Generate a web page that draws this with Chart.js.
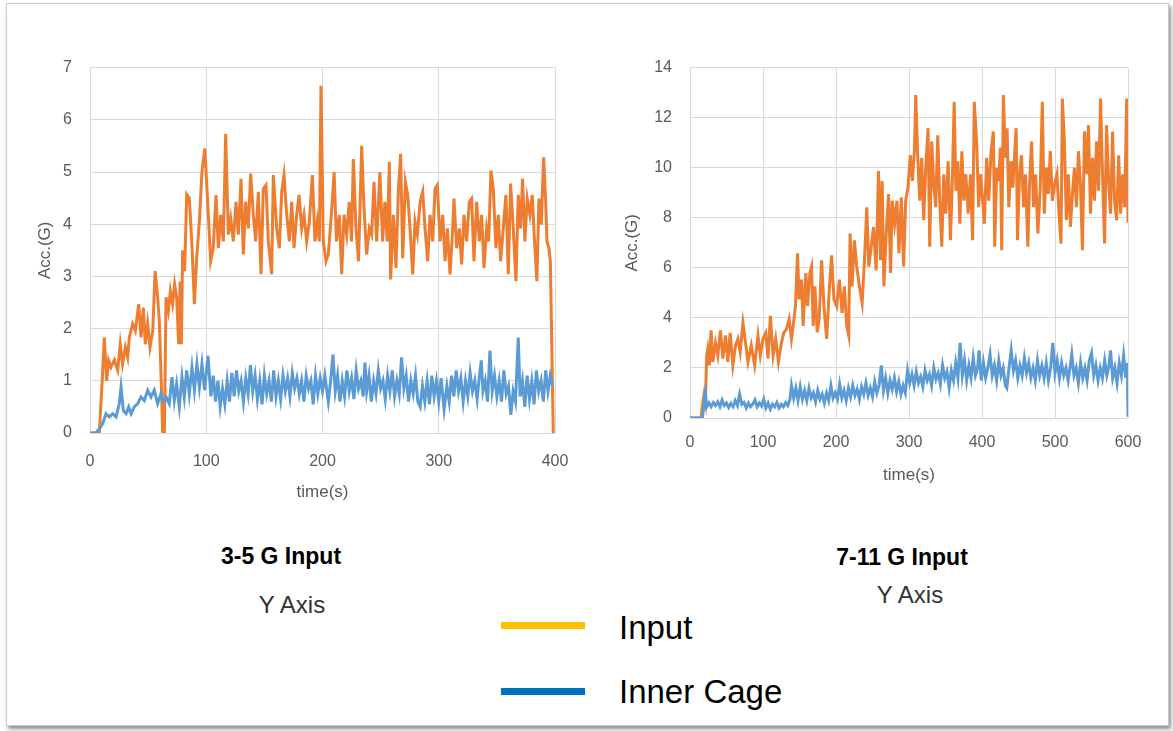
<!DOCTYPE html>
<html>
<head>
<meta charset="utf-8">
<script src="https://cdn.jsdelivr.net/npm/chart.js@4/dist/chart.umd.min.js"></script>
<style>
  html, body { margin: 0; padding: 0; background: #ffffff; }
  body { width: 1173px; height: 731px; position: relative; overflow: hidden; font-family: "Liberation Sans", Arial, sans-serif; }
  #frame { position: absolute; left: 6px; top: 3px; width: 1161px; height: 721px; border: 1px solid #c9c9c9; box-shadow: 2px 3px 4px rgba(0,0,0,0.45); background: #fff; }
  .box { position: absolute; }
  .cap { position: absolute; text-align: center; white-space: nowrap; transform: translate(-50%, -50%); }
  .bold { font-weight: bold; font-size: 23px; color: #000; }
  .sub { font-size: 24px; color: #333; }
  .swatch { position: absolute; width: 84px; height: 7px; }
  .legtxt { position: absolute; font-size: 33px; color: #000; transform: translateY(-50%); white-space: nowrap; }
</style>
</head>
<body>
<div id="frame"></div>
<div class="box" style="left:20px;top:40px;width:568px;height:470px"><canvas id="chartLow"></canvas></div>
<div class="box" style="left:600px;top:40px;width:560px;height:460px"><canvas id="chartHigh"></canvas></div>

<div class="cap bold" style="left:281px;top:556px">3-5 G Input</div>
<div class="cap sub" style="left:292px;top:605px">Y Axis</div>
<div class="cap bold" style="left:902px;top:557px">7-11 G Input</div>
<div class="cap sub" style="left:910px;top:595px">Y Axis</div>

<div class="swatch" style="left:501px;top:622px;background:#FFC000"></div>
<div class="legtxt" style="left:619px;top:628px">Input</div>
<div class="swatch" style="left:501px;top:688px;background:#0070C0"></div>
<div class="legtxt" style="left:619px;top:692px">Inner Cage</div>

<script>
// ---- 3-5 G input run (0-400 s) ----
const lowInputTime = [0,8,9.4,10.5,12.3,14.3,16,18,21,23.8,26,28,30.4,32.4,33.8,36.7,39,41.9,43.9,45.9,47.6,49.6,51.6,54,56,58.2,59.6,61,62.5,64,65.4,67.4,69.1,71,72.8,74.5,76.3,77.5,78.6,79.7,81.4,83.2,85.4,87.7,89.8,91.8,94.1,96.3,98.8,101.8,103.8,106,108.4,110.4,112.4,114.7,116.7,119,121,123.3,125.6,127.6,129.9,131.9,133.9,136.2,138.2,140.5,142.5,144.8,147.1,149.1,151.4,153.4,156.3,157.7,160.6,162.9,164.9,166.9,169.2,171.5,173.5,175.5,177.8,179.8,182.1,184.1,186.4,188.7,191.3,193.5,195.5,197.3,198.7,200.7,203,205,208,210,212,214.5,216.5,218.5,220.8,223,225,226.5,228.8,231,233.7,235.7,238,240.3,242.3,244.3,246.6,249.4,251.7,253.7,255.7,257.5,258.6,261,263.2,265.2,267.2,269,271.3,273.3,275.3,277.6,279.6,281.6,284,286.2,288.2,290.5,292.5,294.8,296.8,298.8,301.1,303.4,305.4,307.4,309.7,312,313.1,315.4,317.7,319.7,321.7,324,326.3,328.3,330.3,332.6,334.9,336.9,338.9,341.2,342.9,344.9,346.9,349.2,351.2,353.2,355.5,357.8,359.8,361.8,364.1,366.4,368.4,370.4,372.1,374.1,376.1,378.4,380.4,382.4,384.4,386.2,388.2,390.2,392,393.1,394.8,396,398.5];
const lowInputAcc = [0,0,0.56,1.0,1.83,1.0,1.39,1.26,1.4,1.2,1.7,1.32,1.64,1.45,1.83,2.09,1.96,2.47,1.83,2.4,1.7,2.1,1.64,1.96,3.1,2.6,2.15,1.2,0,0,2.6,2.34,2.72,2.47,2.85,2.6,1.7,2.9,1.7,3.5,3.1,4.57,4.5,3.6,2.47,3.36,4.06,5.0,5.45,4.18,3.29,3.54,4.56,3.54,4.18,3.67,5.73,3.8,4.11,3.67,4.43,3.8,4.87,3.42,4.43,3.92,4.97,4.18,3.67,4.62,3.04,4.68,4.75,3.67,3.04,4.94,3.92,3.54,4.62,4.94,4.18,3.67,4.43,3.54,4.18,4.56,3.92,4.18,3.67,4.05,4.94,3.67,4.05,3.67,6.65,3.67,3.29,3.42,4.3,5.0,3.67,4.18,3.04,4.18,3.8,4.43,3.67,5.25,3.92,3.29,5.5,4.3,3.42,3.92,3.8,4.81,3.67,5.0,3.67,4.43,3.67,5.19,2.94,4.18,3.16,4.62,5.35,3.35,4.81,4.56,3.92,3.04,4.05,3.8,4.43,4.62,3.92,3.29,4.18,3.67,4.68,4.75,3.67,4.18,3.29,3.92,3.04,3.92,4.49,3.54,3.92,3.23,4.18,3.67,4.43,4.49,3.29,4.43,3.67,4.18,3.16,3.92,3.67,5.03,4.68,3.54,4.18,3.29,3.92,4.56,3.04,4.78,3.92,2.91,4.56,3.92,4.87,3.67,4.49,4.18,4.56,3.67,2.91,4.49,3.99,5.28,4.43,3.67,3.54,3.29,0];

const lowCageTime = [0,5,8,10.9,13.8,16.6,19.5,22.4,25.2,26.7,28.7,31,33.3,35.3,38.1,41,43.9,46.7,49.6,52.5,55.3,58.2,61,63,65.4,68.2,70.5,72.5,74.5,76.8,79.1,81.1,83.2,85.4,87.7,89.8,92,94.1,96.3,98.6,101.5,104,106,108,110,112,114,116,118,120,122,124,126,128,130,132,134,136,138,140,142,144,146,148,150,152,154,156,158,160,162,164,166,168,170,172,174,176,178,180,182,184,186,188,190,192,194,196,198,200,202,205,207,209,211,213,215,217,219,221,223,225,227,229,231,233,235,236.5,238,240,242,244,246,248,250,252,254,256,258,260,262,264,266,268,270,272,274,276,278,280,282,284,286,288,290,292,294,296,298,300,302,304.6,307,309,311,313,315,317,319,321,323,325,327,329,331,333,335,336.6,338,340,342,344,346,348,350,352,354,356,358,360,362,364,366,368.4,370,372,374,376,378,380,382,384,386,388,390,392,394,396,398];
const lowCageAcc = [0,0,0.08,0.18,0.37,0.31,0.37,0.31,0.56,0.88,0.43,0.37,0.5,0.37,0.5,0.56,0.69,0.62,0.82,0.69,0.82,0.56,0.75,0.6,0.69,0.56,1.07,0.62,0.94,0.5,1.07,0.69,1.2,0.75,1.26,0.82,1.32,0.88,1.32,0.82,1.48,0.7,1.1,0.6,1.0,0.5,0.85,0.55,1.0,0.6,1.15,0.7,1.2,0.8,1.0,0.6,1.05,0.75,1.3,0.8,1.1,0.65,1.0,0.55,1.1,0.75,1.0,0.6,1.2,0.7,1.0,0.65,1.1,0.8,1.05,0.7,1.15,0.85,1.05,0.75,1.0,0.6,1.1,0.85,1.0,0.55,1.1,0.75,1.05,0.8,1.1,0.6,1.0,1.5,0.8,1.1,0.6,1.0,0.7,1.2,0.8,1.05,0.65,1.2,0.85,1.0,0.7,1.35,0.8,1.1,0.6,1.0,0.75,1.2,0.85,1.0,0.65,1.1,0.8,1.2,0.7,1.0,0.75,1.45,0.85,1.1,0.6,1.0,0.75,1.1,0.6,0.5,0.9,0.6,1.0,0.55,1.1,0.7,1.0,0.6,1.05,0.45,0.9,0.6,1.1,0.7,1.2,0.8,1.05,0.6,1.0,0.7,1.15,0.8,1.0,0.65,1.1,1.39,0.8,1.0,0.6,1.58,0.8,1.1,0.7,1.0,0.6,1.2,0.75,0.9,0.35,0.8,0.6,1.83,0.7,1.0,0.5,1.1,0.65,1.0,0.55,1.2,0.8,1.0,0.6,1.2,0.8,1.1,0.9];

// ---- 7-11 G input run (0-600 s) ----
const highInputTime = [0,15,17,19,21,22.9,24.3,26.6,28.9,31.2,34.9,38.1,41.7,45,48.6,51.8,55,58.7,62.4,65.6,68.8,72.5,76.1,79.4,83.9,88.5,93.1,96.3,100,103.7,106.9,110.1,113.8,117.4,121.1,125.2,128.4,132.1,135.8,139,141.3,144.5,147.3,149.5,152.8,155,158.7,161,164.2,166.5,168.8,171.1,174.3,177,180.3,183.5,187.2,190.8,194,197.2,200.9,204.6,208.3,211.5,214.7,217.4,219.3,222,225.2,228.4,232.1,235.8,239,242.2,244.9,248.2,251.4,255,258.2,261,263.2,265.6,268.8,272,274.8,277,280.3,283.5,286.2,289.4,292.6,295.4,298.6,301.8,304.6,307.4,309.2,311.9,314.7,317.4,320.2,322.9,326.1,328.4,331.1,333.9,336.6,339.4,342.1,344.9,347.6,350.4,353.6,356.8,359.6,361.9,364.2,366.9,369.7,372.4,375.2,377.9,381.1,384.3,387.1,389.4,392.6,395.4,398.1,400.9,403.2,406.4,409.2,412.4,415.6,417.4,420.2,422.9,425.2,427,429.3,432.1,434.4,436.7,439.9,442.2,444.9,446.8,448.6,451.4,454.1,456.9,459.6,462.8,465.1,467.9,470.6,473.4,476.6,479.8,482.6,485.3,488.1,490.8,493.6,496.3,499.5,502.7,505.5,508.2,510.1,512.8,515.6,518.3,521.1,523.9,526.6,529.4,532.1,534.9,537.6,540.4,543.1,545.9,548.6,551.4,554.1,556.9,559.6,562.4,565.1,567.9,570.6,573.4,576.1,578.9,581.6,584.4,587.2,589.9,592.7,595.4,598.2,600];
const highInputAcc = [0,0,0.5,0.9,0.6,2.5,2.76,2.1,3.5,2.24,3.0,2.5,3.5,2.37,3.3,2.24,3.4,2.1,2.9,3.16,2.63,3.8,3.0,2.24,2.9,2.1,3.3,2.5,3.16,3.4,2.37,4.08,2.5,3.16,2.24,3.0,3.4,3.55,3.95,3.16,3.68,4.47,6.58,4.74,5.53,3.68,5.79,4.47,5.79,6.05,3.68,5.26,3.42,3.95,6.3,4.47,3.16,5.13,6.5,4.74,4.47,5.53,4.2,5.26,3.68,3.3,7.37,5.26,7.1,6.05,5.26,4.6,6.3,8.42,6.05,6.84,7.63,5.9,9.87,6.3,9.47,5.26,7.37,8.95,5.79,8.68,7.76,8.68,6.58,8.82,6.05,8.68,9.2,10.5,9.47,10.66,12.9,10.5,8.68,10.4,7.9,10.0,11.58,6.84,11.05,9.34,8.42,11.3,8.68,6.84,9.74,8.16,10.26,7.1,9.74,12.63,9.08,10.26,7.76,10.66,8.68,9.74,8.16,9.74,7.1,12.63,11.05,8.42,9.74,8.68,7.76,10.4,8.68,10.66,11.45,6.84,10.0,9.47,10.8,6.7,12.9,10.4,11.58,8.42,10.26,9.2,10.66,11.58,7.1,9.74,10.5,8.42,9.74,6.84,9.34,11.05,8.42,9.74,7.37,9.2,12.63,8.16,10.0,8.95,10.66,8.68,9.34,9.74,8.16,6.97,12.76,11.05,7.9,9.74,7.63,8.95,10.0,8.42,10.66,9.34,6.7,11.45,9.74,11.7,8.16,10.4,8.68,11.05,9.08,12.76,9.74,6.97,11.7,9.47,8.16,11.45,8.68,7.9,10.5,8.16,9.74,8.42,12.76,7.8];

const highCageTime = [0,17,19,21,23,26,29,32,35,38,41,44,47,50,53,56,59,62,65,68,71,74,77,80,83,86,89,92,95,98,101,104,107,110,113,116,119,122,125,128,131,134,137,139,142,145,148,151,154,157,160,163,166,169,172,175,178,181,184,187,190,193,196,199,202,205,208,211,214,217,220,223,226,229,232,235,238,241,244,247,250,253,256,259,262,265,268,271,274,277,280,283,286,289,292,295,298,301,304,307,310,313,316,319,322,325,328,331,334,337,340,343,346,349,352,355,358,361,364,367,370,373,376,379,382,385,388,391,394,396,399,402,405,408,411,414,417,420,423,426,429,432,434,437,440,443,446,449,452,455,458,461,464,467,470,473,476,479,482,485,488,491,494,497,500,503,506,509,512,515,518,521,523,526,529,532,535,538,541,544,547,550,553,556,559,562,565,568,571,574,576,579,582,585,588,591,594,597,599,600];
const highCageAcc = [0,0,0.5,1.0,0.45,0.6,0.45,0.62,0.5,0.65,0.45,0.72,0.5,0.6,0.42,0.58,0.45,0.7,0.5,0.95,0.55,0.62,0.4,0.6,0.45,0.55,0.72,0.45,0.6,0.48,0.75,0.4,0.6,0.35,0.55,0.45,0.62,0.4,0.55,0.45,0.62,0.5,0.75,1.3,0.8,1.2,0.7,1.25,0.75,1.1,0.7,1.2,0.8,1.0,0.65,1.1,0.75,0.95,0.6,1.0,0.7,1.3,0.8,1.0,0.75,1.35,0.8,1.1,0.7,1.2,0.85,1.3,0.9,1.15,0.75,1.25,0.95,1.4,0.9,1.2,0.85,1.45,1.0,1.3,2.1,1.1,1.6,1.0,1.5,1.15,1.6,1.05,1.45,0.95,1.3,1.0,1.9,1.4,1.75,1.3,1.85,1.4,1.65,1.25,1.9,1.5,1.75,1.3,2.0,1.55,1.8,1.35,2.1,1.6,1.85,1.2,1.9,1.5,2.2,1.6,3.0,1.7,2.3,1.5,2.1,1.6,2.4,1.7,2.0,2.7,1.5,2.2,1.6,2.0,2.55,1.7,2.1,1.5,2.3,1.7,2.0,1.3,1.2,2.0,2.7,1.9,2.3,1.6,2.1,1.7,2.4,1.8,2.2,1.6,2.0,1.5,2.3,1.7,2.1,1.6,2.2,1.5,2.0,3.0,1.8,2.3,1.6,2.2,1.7,2.0,1.5,2.1,2.55,1.7,2.0,1.4,2.2,1.6,2.0,1.5,2.3,2.6,1.7,2.1,1.5,2.0,1.6,2.3,1.7,2.1,2.7,1.6,2.0,1.4,2.2,1.7,2.5,1.6,2.2,0.05];

// axis ranges and tick steps
const lowTimeTicks = { min: 0, max: 400, step: 100 };
const lowAccTicks = { min: 0, max: 7, step: 1 };
const highTimeTicks = { min: 0, max: 600, step: 100 };
const highAccTicks = { min: 0, max: 14, step: 2 };

const seriesLabels = ['Input', 'Inner Cage'];
const inputColor = '#ED7D31';
const cageColor = '#5B9BD5';
const gridColor = '#d9d9d9';
const textColor = '#595959';
const fontFamily = '"Liberation Sans", Arial, sans-serif';

function pairs(ts, vs) {
  return ts.map((t, i) => ({ x: t, y: vs[i] }));
}

function makeChart(id, inputT, inputV, cageT, cageV, xr, yr, geom) {
  const ctx = document.getElementById(id);
  return new Chart(ctx, {
    type: 'line',
    data: {
      datasets: [
        { label: seriesLabels[1], data: pairs(cageT, cageV), borderColor: cageColor, borderWidth: 3, pointRadius: 0, tension: 0, fill: false },
        { label: seriesLabels[0], data: pairs(inputT, inputV), borderColor: inputColor, borderWidth: 3, pointRadius: 0, tension: 0, fill: false }
      ]
    },
    options: {
      responsive: true,
      maintainAspectRatio: false,
      animation: false,
      events: [],
      layout: { padding: geom.padding },
      plugins: { legend: { display: false }, tooltip: { enabled: false } },
      scales: {
        x: {
          type: 'linear', min: xr.min, max: xr.max,
          ticks: { stepSize: xr.step, color: textColor, font: { family: fontFamily, size: 16 }, padding: geom.xTickPad, maxRotation: 0 },
          grid: { color: gridColor, lineWidth: 1, drawTicks: false },
          border: { display: false },
          title: { display: true, text: 'time(s)', color: textColor, font: { family: fontFamily, size: 17 }, padding: { top: 0, bottom: geom.xTitlePad } },
          afterFit: s => { s.height = geom.xHeight; }
        },
        y: {
          type: 'linear', min: yr.min, max: yr.max,
          ticks: { stepSize: yr.step, color: textColor, font: { family: fontFamily, size: 16 }, padding: geom.yTickPad },
          grid: { color: gridColor, lineWidth: 1, drawTicks: false },
          border: { display: false },
          title: { display: true, text: 'Acc.(G)', color: textColor, font: { family: fontFamily, size: 17 }, padding: { top: geom.yTitlePad, bottom: 0 } },
          afterFit: s => { s.width = geom.yWidth; }
        }
      }
    }
  });
}

makeChart('chartLow', lowInputTime, lowInputAcc, lowCageTime, lowCageAcc, lowTimeTicks, lowAccTicks,
  { padding: { left: 0, right: 33, top: 25, bottom: 7 }, xHeight: 70, yWidth: 70, xTickPad: 19, xTitlePad: 0, yTickPad: 18, yTitlePad: 15 });
makeChart('chartHigh', highInputTime, highInputAcc, highCageTime, highCageAcc, highTimeTicks, highAccTicks,
  { padding: { left: 0, right: 32, top: 23, bottom: 7 }, xHeight: 75, yWidth: 90, xTickPad: 15, xTitlePad: 7, yTickPad: 18, yTitlePad: 22 });
</script>
</body>
</html>
